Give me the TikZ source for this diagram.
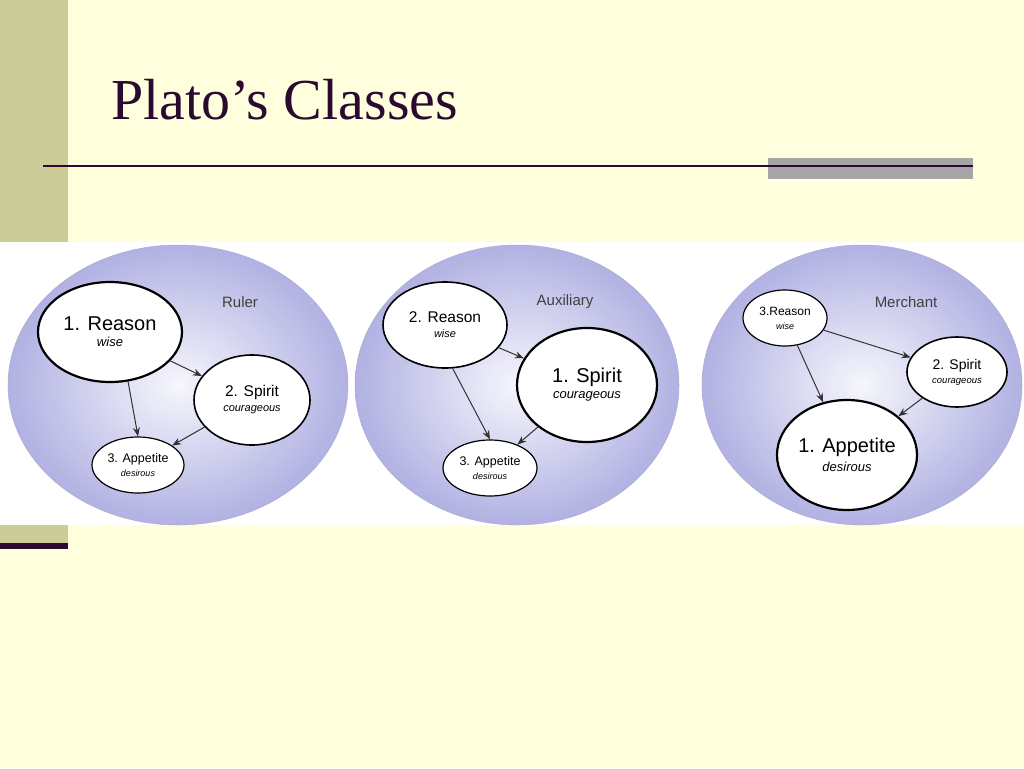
\documentclass[tikz,border=0pt]{standalone}
\usepackage{fontspec}
\setmainfont{Liberation Serif}
\newfontfamily\arial{Liberation Sans}
\usetikzlibrary{shapes.geometric,arrows.meta}
\definecolor{bgy}{HTML}{FFFFDD}
\definecolor{olive}{HTML}{CCCC99}
\definecolor{dpurple}{HTML}{2A0A30}
\definecolor{lav}{HTML}{C4C4EE}
\begin{document}
\begin{tikzpicture}[x=1pt,y=-1pt,
  big/.style={circle,inner sep=0pt,shading=radial,inner color=white!85!lav,outer color=lav!95!blue!95!black,draw=lav!70!gray,line width=0.5pt},
  el/.style={ellipse,draw=black,fill=white,align=center,inner sep=0pt,font=\arial},
  lab/.style={font=\arial\fontsize{15}{17}\selectfont,text=black!75},
  arr/.style={-{Stealth[length=9pt,width=7pt]},black!80,line width=1pt}]
\useasboundingbox (0,0) rectangle (1024,768);
\fill[bgy] (0,0) rectangle (1024,768);
\fill[olive] (0,0) rectangle (68,242);
\fill[olive] (0,525) rectangle (68,545);
\fill[dpurple] (0,543) rectangle (68,549);
\node[anchor=west,font=\fontsize{58}{64}\selectfont,text=dpurple] (title) at (108,100) {Plato’s Classes};
\fill[black!35] (768,158) rectangle (973,179);
\draw[dpurple,line width=2.5pt] (43,166) -- (973,166);
\fill[white] (0,242) rectangle (1024,525);
% Ruler
\node[big,ellipse,minimum width=340pt,minimum height=280pt] (c1) at (178,385) {};
\node[lab] (l1) at (240,302) {Ruler};
\node[el,line width=2.2pt,minimum width=144pt,minimum height=100pt] (r1) at (110,332) {{\fontsize{20}{22}\selectfont 1. Reason}\\[4pt]{\fontsize{13}{15}\selectfont\itshape wise}};
\node[el,line width=1.6pt,minimum width=116pt,minimum height=90pt] (s1) at (252,400) {{\fontsize{15.5}{17}\selectfont 2. Spirit}\\[3pt]{\fontsize{11}{13}\selectfont\itshape courageous}};
\node[el,line width=1.2pt,minimum width=92pt,minimum height=56pt] (a1) at (138,465) {{\fontsize{12.5}{14}\selectfont 3. Appetite}\\[2pt]{\fontsize{9}{10}\selectfont\itshape desirous}};
\draw[arr] (r1) -- (s1);
\draw[arr] (r1.-70) -- (a1.north);
\draw[arr] (s1) -- (a1);
% Auxiliary
\node[big,ellipse,minimum width=324pt,minimum height=280pt] (c2) at (517,385) {};
\node[lab] (l2) at (565,302) {Auxiliary};
\node[el,line width=1.6pt,minimum width=124pt,minimum height=86pt] (r2) at (445,325) {{\fontsize{15.5}{17}\selectfont 2. Reason}\\[3pt]{\fontsize{11}{13}\selectfont\itshape wise}};
\node[el,line width=2.2pt,minimum width=140pt,minimum height=114pt] (s2) at (587,385) {{\fontsize{20}{22}\selectfont 1. Spirit}\\[4pt]{\fontsize{13}{15}\selectfont\itshape courageous}};
\node[el,line width=1.2pt,minimum width=94pt,minimum height=56pt] (a2) at (490,468) {{\fontsize{12.5}{14}\selectfont 3. Appetite}\\[2pt]{\fontsize{9}{10}\selectfont\itshape desirous}};
\draw[arr] (r2) -- (s2);
\draw[arr] (r2.-80) -- (a2.north);
\draw[arr] (s2) -- (a2);
% Merchant
\node[big,ellipse,minimum width=320pt,minimum height=280pt] (c3) at (862,385) {};
\node[lab] (l3) at (906,302) {Merchant};
\node[el,line width=1.2pt,minimum width=84pt,minimum height=56pt] (r3) at (785,318) {{\fontsize{12}{14}\selectfont 3.Reason}\\[2pt]{\fontsize{9}{10}\selectfont\itshape wise}};
\node[el,line width=1.6pt,minimum width=100pt,minimum height=70pt] (s3) at (957,372) {{\fontsize{14}{16}\selectfont 2. Spirit}\\[2pt]{\fontsize{9.5}{11}\selectfont\itshape courageous}};
\node[el,line width=2.2pt,minimum width=140pt,minimum height=110pt] (a3) at (847,455) {{\fontsize{20}{22}\selectfont 1. Appetite}\\[4pt]{\fontsize{13}{15}\selectfont\itshape desirous}};
\draw[arr] (r3) -- (s3);
\draw[arr] (r3) -- (a3);
\draw[arr] (s3) -- (a3);
\end{tikzpicture}
\end{document}
